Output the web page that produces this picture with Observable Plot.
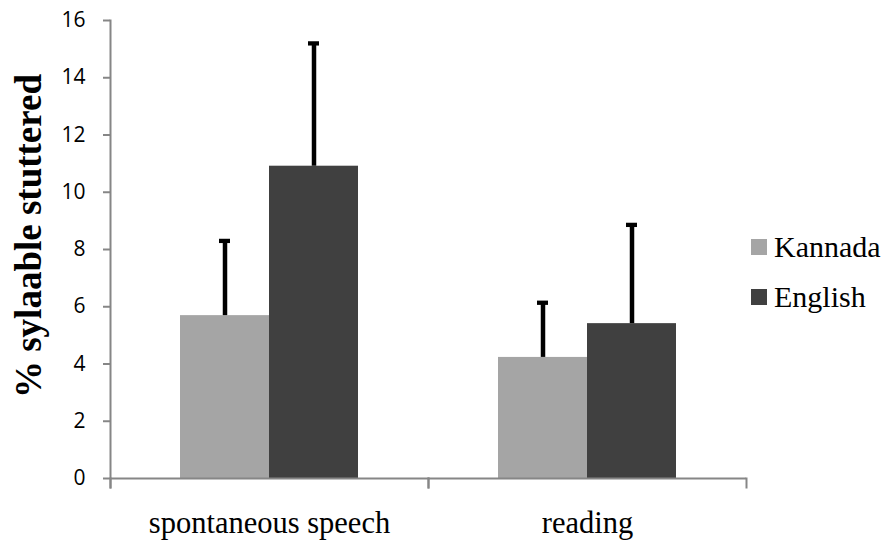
<!DOCTYPE html>
<html>
<head>
<meta charset="utf-8">
<script src="https://cdn.jsdelivr.net/npm/d3@7"></script>
<script src="https://cdn.jsdelivr.net/npm/@observablehq/plot@0.6"></script>
<style>
  html, body { margin: 0; padding: 0; background: #fff; }
  #wrap { position: relative; width: 887px; height: 541px; overflow: hidden; }
  #ytitle { position: absolute; left: 28px; top: 236px; transform: translate(-50%, -50%) rotate(-90deg);
    white-space: nowrap; font: bold 37px "Liberation Serif", serif; color: #000; }
  .lg { position: absolute; left: 751px; height: 32px; display: flex; align-items: center;
    font: 30px "Liberation Serif", serif; color: #000; white-space: nowrap; }
  .lg span.sw { display: inline-block; width: 16px; height: 16px; margin-right: 7px; }
</style>
</head>
<body>
<div id="wrap"></div>
<script>
const categories = ["spontaneous speech", "reading"];
const series = ["Kannada", "English"];
const kannadaMean = [5.69, 4.23];
const englishMean = [10.91, 5.41];
const kannadaErr = [2.61, 1.91];
const englishErr = [4.29, 3.45];
const seriesColors = ["#a5a5a5", "#404040"];
const yTicks = [0, 2, 4, 6, 8, 10, 12, 14, 16];
const yTitle = "% sylaable stuttered";

const data = categories.flatMap((c, i) => [
  {category: c, series: series[0], mean: kannadaMean[i], err: kannadaErr[i]},
  {category: c, series: series[1], mean: englishMean[i], err: englishErr[i]}
]);

const axisGray = "#868686";

const chart = Plot.plot({
  width: 887,
  height: 541,
  marginLeft: 110,
  marginRight: 141,
  marginTop: 20,
  marginBottom: 63,
  style: {fontFamily: "'Open Sans', sans-serif", fontSize: "21px", background: "#fff", color: "#000"},
  fx: {domain: categories, padding: 0, label: null},
  x: {domain: series, paddingInner: 0, paddingOuter: 0.767, axis: null},
  y: {domain: [0, 16], label: null},
  color: {domain: series, range: seriesColors},
  marks: [
    Plot.barY(data, {fx: "category", x: "series", y: "mean", fill: "series"}),
    Plot.ruleX(data, {fx: "category", x: "series", y1: "mean", y2: d => d.mean + d.err, stroke: "#000", strokeWidth: 4.5}),
    Plot.tickY(data, {fx: "category", x: "series", y: d => d.mean + d.err, stroke: "#000", strokeWidth: 4.3, insetLeft: 39, insetRight: 39}),
    Plot.ruleY([0], {stroke: axisGray, strokeWidth: 2}),
    Plot.frame({anchor: "left", facetAnchor: "left", stroke: axisGray, strokeWidth: 2, insetBottom: -9}),
    Plot.frame({anchor: "left", stroke: axisGray, strokeWidth: 2, insetTop: 458, insetBottom: -9}),
    Plot.frame({anchor: "right", stroke: axisGray, strokeWidth: 2, insetTop: 458, insetBottom: -9}),
    Plot.axisY({ticks: yTicks, tickSize: 7, tickPadding: 18, stroke: axisGray, strokeWidth: 2, label: null}),
    Plot.axisFx({anchor: "bottom", tickSize: 0, tickPadding: 33, label: null, fontSize: 30.5, fontFamily: "'Liberation Serif', serif"})
  ]
});

const wrap = document.getElementById("wrap");
wrap.appendChild(chart);

const yt = document.createElement("div");
yt.id = "ytitle";
yt.textContent = yTitle;
wrap.appendChild(yt);

const legendTops = [231, 281];
series.forEach((s, i) => {
  const row = document.createElement("div");
  row.className = "lg";
  row.style.top = legendTops[i] + "px";
  const sw = document.createElement("span");
  sw.className = "sw";
  sw.style.background = seriesColors[i];
  row.appendChild(sw);
  row.appendChild(document.createTextNode(s));
  wrap.appendChild(row);
});
</script>
</body>
</html>
